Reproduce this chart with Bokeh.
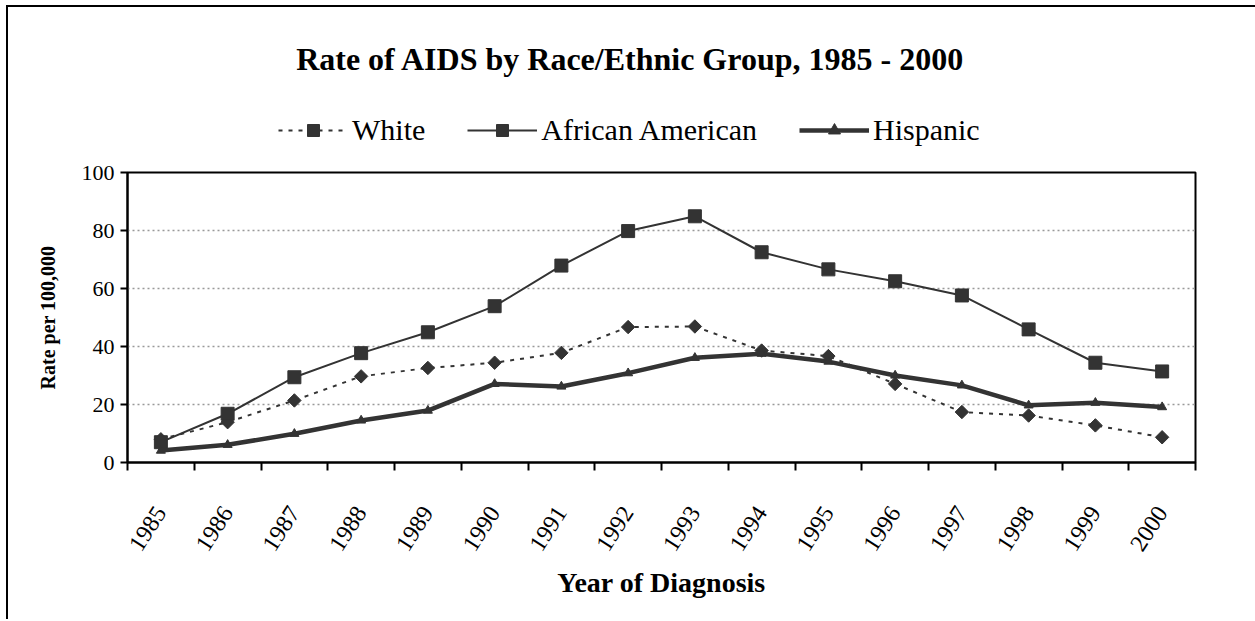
from bokeh.plotting import figure
from bokeh.layouts import column
from bokeh.models import (Range1d, LinearAxis, FixedTicker, Legend, LegendItem, Title, Label)
from bokeh.embed import file_html
from bokeh.resources import INLINE
import math

years = ["1985", "1986", "1987", "1988", "1989", "1990", "1991", "1992",
         "1993", "1994", "1995", "1996", "1997", "1998", "1999", "2000"]
white = [8.0, 13.9, 21.4, 29.7, 32.6, 34.4, 37.8, 46.7, 46.9, 38.6, 36.7, 27.1, 17.4, 16.2, 12.8, 8.7]
african_american = [7.0, 16.8, 29.4, 37.7, 44.9, 53.9, 67.9, 79.8, 84.9, 72.5, 66.6, 62.5, 57.6, 45.9, 34.4, 31.4]
hispanic = [4.1, 6.1, 9.9, 14.5, 17.9, 27.1, 26.2, 30.8, 36.1, 37.5, 34.8, 30.0, 26.6, 19.7, 20.6, 19.1]
y_ticks = [0, 20, 40, 60, 80, 100]
series_names = ["White", "African American", "Hispanic"]

# category slots: each year occupies one unit, marks at slot centres
n = len(years)
xc = [i + 0.5 for i in range(n)]
edges = list(range(n + 1))

FONT = "Liberation Serif"
INK = "#333333"

# ---------------- main chart ----------------
p = figure(width=1247, height=462, x_range=Range1d(0, n), y_range=Range1d(0, 100),
           output_backend="svg", toolbar_location=None, x_axis_location=None,
           y_axis_location="left", title=None,
           min_border_left=119, min_border_right=60, min_border_top=15, min_border_bottom=157)

p.outline_line_color = "black"
p.outline_line_width = 2
p.background_fill_color = "white"
p.border_fill_color = "white"

ya = p.yaxis[0]
ya.ticker = FixedTicker(ticks=y_ticks)
ya.axis_line_width = 2
ya.axis_line_color = "black"
ya.major_tick_line_width = 2
ya.major_tick_in = 0
ya.major_tick_out = 7
ya.minor_tick_line_color = None
ya.major_label_text_font = FONT
ya.major_label_text_font_size = "22px"
ya.major_label_text_color = "black"
ya.major_label_standoff = 6
ya.axis_label = "Rate per 100,000"
ya.axis_label_text_font = FONT
ya.axis_label_text_font_size = "20px"
ya.axis_label_text_font_style = "bold"
ya.axis_label_text_color = "black"
ya.axis_label_standoff = 20

p.ygrid.ticker = FixedTicker(ticks=y_ticks)
p.ygrid.grid_line_color = "#999999"
p.ygrid.grid_line_dash = "2 3"
p.ygrid.grid_line_width = 1.5
p.xgrid.grid_line_color = None

# x axis: year labels at slot centres, tick marks (minor) at slot boundaries
xa = LinearAxis(ticker=FixedTicker(ticks=xc, minor_ticks=edges),
                major_label_overrides={x: y for x, y in zip(xc, years)},
                axis_line_width=2, axis_line_color="black",
                major_tick_line_color=None, major_tick_in=0, major_tick_out=0,
                minor_tick_line_color="black", minor_tick_line_width=2,
                minor_tick_in=0, minor_tick_out=8,
                major_label_orientation=1.0,
                major_label_text_font=FONT, major_label_text_font_size="24px",
                major_label_text_color="black", major_label_standoff=38)
p.add_layout(xa, "below")

p.line(xc, white, line_color=INK, line_width=2, line_dash="4 6")
p.scatter(xc, white, marker="square", angle=math.pi / 4, size=9.5, color=INK)
p.line(xc, african_american, line_color=INK, line_width=2)
p.scatter(xc, african_american, marker="square", size=13, color=INK)
p.line(xc, hispanic, line_color=INK, line_width=4.5)
p.scatter(xc, hispanic, marker="triangle", size=9, color=INK)

xtitle = Title(text="Year of Diagnosis", align="center", offset=-31,
               text_font=FONT, text_font_size="28px", text_font_style="bold",
               text_color="black", standoff=10)
p.add_layout(xtitle, "below")

# ---------------- heading: title + legend ----------------
top = figure(width=1247, height=150, x_range=Range1d(0, 1), y_range=Range1d(0, 1),
             output_backend="svg", toolbar_location=None, x_axis_location=None,
             y_axis_location=None, title=None, min_border=0)
top.outline_line_color = None
top.grid.grid_line_color = None
top.background_fill_color = "white"
top.border_fill_color = "white"

top.add_layout(Label(x=0.471, y=0.66, text="Rate of AIDS by Race/Ethnic Group, 1985 - 2000",
                     text_align="center", text_baseline="middle", text_font=FONT,
                     text_font_size="32px", text_font_style="bold", text_color="black"))

# legend keys: same series, which fall outside this heading's 0..1 range and so stay hidden
wl = top.line(xc, white, line_color=INK, line_width=2, line_dash="4 6")
wp = top.scatter(xc, white, marker="square", angle=math.pi / 4, size=9.5, color=INK)
al = top.line(xc, african_american, line_color=INK, line_width=2)
ap = top.scatter(xc, african_american, marker="square", size=13, color=INK)
hl = top.line(xc, hispanic, line_color=INK, line_width=4.5)
hp = top.scatter(xc, hispanic, marker="triangle", size=9, color=INK)

legend = Legend(items=[LegendItem(label=series_names[0], renderers=[wl, wp]),
                       LegendItem(label=series_names[1], renderers=[al, ap]),
                       LegendItem(label=series_names[2], renderers=[hl, hp])],
                orientation="horizontal", location=(151, 10),
                label_text_font=FONT, label_text_font_size="30px", label_text_color="black",
                glyph_width=70, glyph_height=30, label_standoff=4, spacing=42,
                padding=5, margin=0, border_line_color=None, background_fill_alpha=0)
top.add_layout(legend, "center")

layout = column(top, p, spacing=0)
layout.styles = {"margin-left": "6px", "margin-top": "5px",
                 "border-left": "2px solid black", "border-top": "2px solid black"}

open("out.html", "w").write(file_html(layout, INLINE))
